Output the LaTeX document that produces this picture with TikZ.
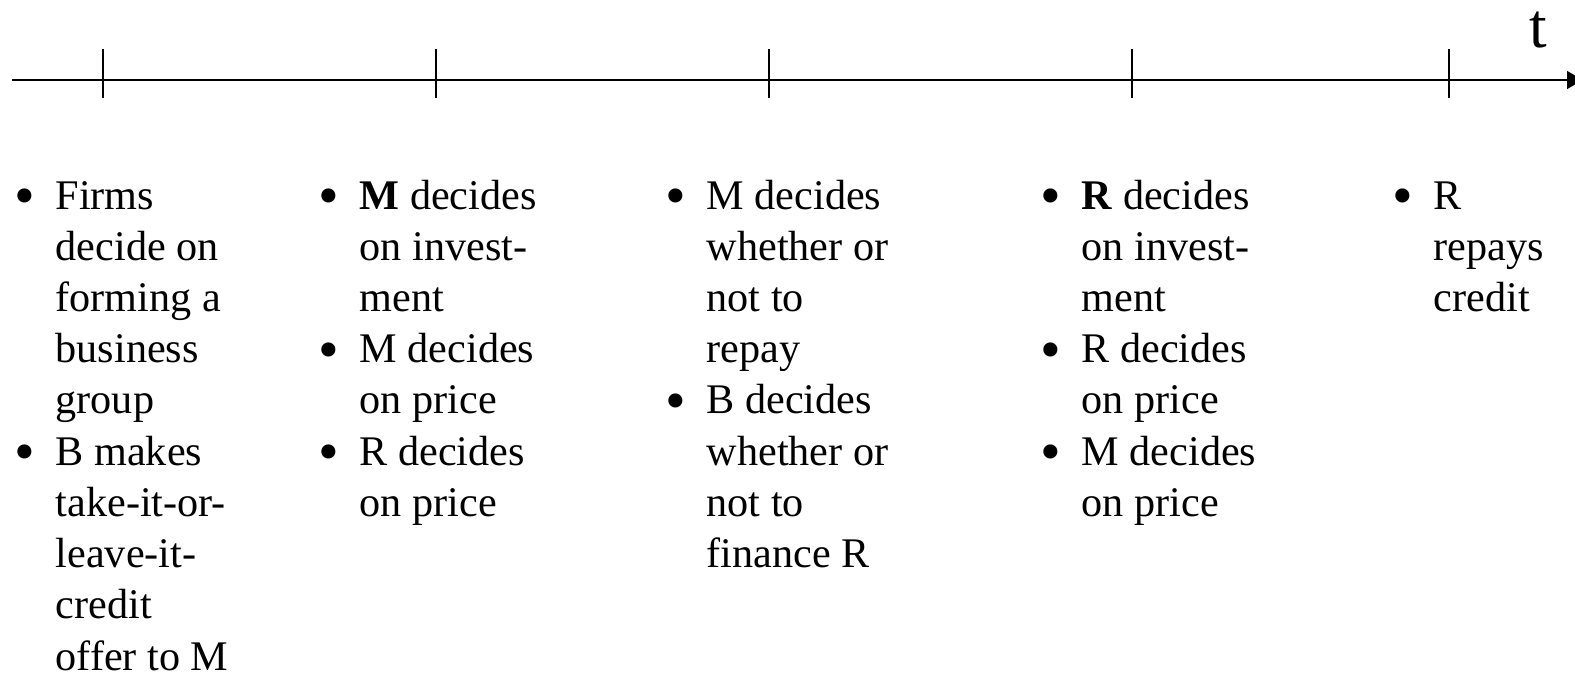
\documentclass[tikz,border=0pt]{standalone}
\usepackage{fontspec}
\usepackage{graphicx}
\setmainfont{Liberation Serif}
\usetikzlibrary{arrows.meta}

% bullet hanging left of the text start
\newcommand{\itm}{\llap{\raisebox{-1.8pt}{\scalebox{1.4}{\textbullet}}\hspace{5.8pt}}}
% one column of bullet points under a tick
\newcommand{\stagelist}[1]{{\fontsize{12}{14.57}\selectfont
  \begin{tabular}[t]{@{}l@{}}#1\end{tabular}}}

\begin{document}
\begin{tikzpicture}[
    x=0.01cm, y=-0.01cm,
    stage/.style={anchor=base west, inner sep=0pt},
    axis/.style={line width=0.6pt, -{Triangle[length=4.5pt, width=5pt]}},
    tick/.style={line width=0.6pt}
  ]
  \useasboundingbox (0,0) rectangle (1575,675);

  % Time axis
  \coordinate (start) at (12,80);
  \coordinate (end) at (1583,80);
  \draw[axis] (start) -- (end);
  \node[anchor=base, inner sep=0pt, font=\fontsize{18}{20}\selectfont] (tlabel) at (1538,47) {t};

  % Ticks
  \foreach \x/\n in {103/a, 436/b, 769/c, 1132/d, 1449/e} {
    \coordinate (top\n) at (\x,49);
    \coordinate (bot\n) at (\x,98);
    \draw[tick] (top\n) -- (bot\n);
  }

  % Stages
  \node[stage] (s1) at (55,209) {\stagelist{
    \itm Firms\\ decide on\\ forming a\\ business\\ group\\
    \itm B makes\\ take-it-or-\\ leave-it-\\ credit\\ offer to M}};
  \node[stage] (s2) at (359,209) {\stagelist{
    \itm \textbf{M} decides\\ on invest-\\ ment\\
    \itm M decides\\ on price\\
    \itm R decides\\ on price}};
  \node[stage] (s3) at (706,209) {\stagelist{
    \itm M decides\\ whether or\\ not to\\ repay\\
    \itm B decides\\ whether or\\ not to\\ finance R}};
  \node[stage] (s4) at (1081,209) {\stagelist{
    \itm \textbf{R} decides\\ on invest-\\ ment\\
    \itm R decides\\ on price\\
    \itm M decides\\ on price}};
  \node[stage] (s5) at (1433,209) {\stagelist{
    \itm R\\ repays\\ credit}};
\end{tikzpicture}
\end{document}
